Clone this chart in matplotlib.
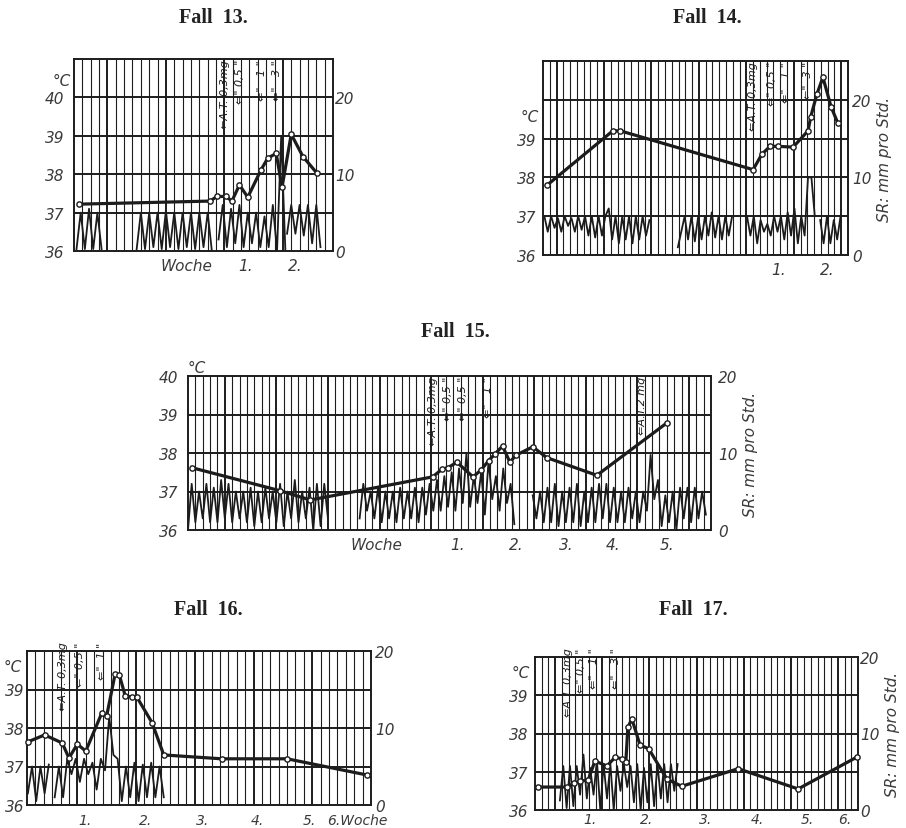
import numpy as np
import matplotlib
matplotlib.use("Agg")
import matplotlib.pyplot as plt

W, H = 906, 829
INK = "#1c1c1c"
TXT = "#3a3a3a"

# ---------------- data (x in grid cells, temperature in degC, SR in mm/h) ----------------
# Fall 13
f13_sr_x = [0.6, 16.3, 17.1, 18.2, 18.9, 19.8, 20.8, 22.4, 23.2, 24.2, 24.9, 26.0, 27.4, 29.1]
f13_sr = [6.1, 6.5, 7.1, 7.1, 6.5, 8.6, 7.0, 10.6, 12.1, 12.7, 8.3, 15.2, 12.3, 10.1]
f13_temp_start = [0.3, 7.5, 17.3, 25.5]
f13_temp = [
    [36.05, 37.0, 36.05, 37.1, 36.05, 37.0, 36.05],
    [36.05, 37.0, 36.05, 37.0, 36.1, 37.0, 36.05, 37.05, 36.1, 37.0, 36.05, 37.0, 36.1, 37.0,
     36.05, 37.0, 36.1, 37.0, 36.0],
    [36.3, 37.2, 36.1, 37.1, 36.2, 37.2, 36.1, 37.0, 36.2, 37.0, 36.1, 36.9, 36.1, 37.2, 36.0,
     39.0, 36.0],
    [36.45, 37.2, 36.45, 37.2, 36.4, 37.2, 36.2, 37.2, 36.1],
]
f13_weeks_x = [20.5, 26.5]
f13_weeks = ["1.", "2."]
f13_notes_x = [18.1, 19.9, 22.5, 24.3]
f13_notes = ["⇐A.T. 0,3mg", "⇐\" 0,5 \"", "⇐\"   1 \"", "⇐\"   3 \""]

# Fall 14
f14_sr_x = [0.6, 10.3, 11.4, 31.0, 32.3, 33.5, 34.7, 36.9, 39.1, 39.5, 40.4, 41.3, 42.5, 43.5]
f14_sr = [9.0, 16.0, 16.0, 11.0, 13.0, 14.0, 14.0, 13.9, 16.0, 17.8, 20.7, 22.9, 19.1, 17.0]
f14_temp_start = [0.2, 19.9, 30.1, 40.9]
f14_temp = [
    [37.0, 36.6, 37.0, 36.7, 36.95, 36.6, 37.0, 36.75, 36.95, 36.6, 37.0, 36.65, 37.0, 36.5,
     37.0, 36.45, 37.0, 36.5, 37.0, 37.2, 36.4, 37.0, 36.3, 37.0, 36.4, 37.0, 36.3, 37.0, 36.4,
     37.0, 36.5, 36.9],
    [36.2, 36.6, 37.0, 36.4, 37.0, 36.35, 37.0, 36.4, 37.0, 36.5, 37.1, 36.45, 37.0, 36.4, 37.0,
     36.5, 37.0],
    [37.0, 36.5, 37.0, 36.3, 36.9, 36.6, 36.8, 36.5, 37.0, 36.6, 37.0, 36.4, 37.1, 36.5, 37.2,
     36.3, 37.0, 36.5, 38.0, 38.0, 37.0],
    [36.9, 36.3, 37.0, 36.3, 36.9, 36.4, 37.0],
]
f14_weeks_x = [34.7, 41.9]
f14_weeks = ["1.", "2."]
f14_notes_x = [31.0, 33.8, 35.8, 39.1]
f14_notes = ["⇐A.T. 0,3mg", "⇐\" 0,5 \"", "⇐\"   1 \"", "⇐\"  3 \""]

# Fall 15
f15_sr_x = [0.5, 12.5, 16.6, 33.2, 34.5, 35.3, 36.5, 38.7, 39.8, 40.8, 41.7, 42.7, 43.7, 44.5,
            46.8, 48.7, 55.5, 65.0]
f15_sr = [8.1, 5.1, 3.9, 6.9, 7.9, 8.1, 8.8, 6.9, 7.8, 9.0, 9.9, 10.9, 8.8, 9.7, 10.8, 9.4, 7.1, 13.9]
f15_temp_start = [0.0, 23.3, 46.8]
f15_temp = [
    [36.0, 37.2, 36.2, 37.0, 36.3, 37.2, 36.2, 37.1, 36.2, 37.3, 36.3, 37.2, 36.2, 37.0, 36.3,
     37.0, 36.2, 37.1, 36.1, 37.0, 36.2, 37.1, 36.3, 37.0, 36.2, 37.2, 36.1, 37.0, 36.3, 37.3,
     36.2, 37.0, 36.3, 37.1, 36.0, 37.2, 36.1, 37.2, 36.3],
    [36.3, 37.2, 36.5, 37.0, 36.3, 37.1, 36.2, 37.0, 36.3, 37.0, 36.2, 37.1, 36.3, 37.0, 36.3,
     37.1, 36.2, 37.1, 36.4, 37.2, 36.5, 37.3, 36.5, 37.4, 36.6, 37.5, 36.5, 37.6, 36.7, 38.0,
     36.6, 37.4, 36.7, 37.5, 36.4, 37.8, 36.8, 37.4, 36.5, 37.6, 36.7, 37.2, 36.15],
    [36.9, 36.3, 37.0, 36.2, 37.1, 36.2, 37.2, 36.1, 37.0, 36.2, 37.1, 36.2, 37.2, 36.1, 37.0,
     36.2, 37.1, 36.2, 37.2, 36.3, 37.2, 36.2, 37.1, 36.2, 37.0, 36.2, 37.1, 36.3, 37.0, 36.2,
     37.0, 36.5, 37.95, 36.8, 37.3, 36.1, 36.9, 36.2, 37.0, 36.0, 37.1, 36.3, 37.1, 36.2, 37.1,
     36.3, 37.0, 36.4],
]
f15_weeks_x = [36.6, 44.6, 51.4, 57.7, 65.0]
f15_weeks = ["1.", "2.", "3.", "4.", "5."]
f15_notes_x = [33.2, 35.3, 37.3, 40.7, 61.6]
f15_notes = ["⇐A.T. 0,3mg", "⇐\" 0,5 \"", "⇐\" 0,5 \"", "⇐\"   1 \"", "⇐A.T.2 mg"]

# Fall 16
f16_sr_x = [0.1, 2.1, 4.2, 5.0, 6.0, 7.0, 8.9, 9.5, 10.5, 11.0, 11.7, 12.5, 13.1, 14.9, 16.3,
            23.2, 31.0, 40.5]
f16_sr = [8.2, 9.1, 8.05, 6.1, 7.9, 7.0, 11.9, 11.6, 17.0, 16.9, 14.2, 14.0, 14.0, 10.7, 6.5,
          6.0, 6.0, 3.9]
f16_temp_start = [0.1, 3.3]
f16_temp = [
    [36.3, 37.0, 36.1, 37.0, 36.3, 37.05],
    [36.2, 37.0, 36.2, 37.2, 36.8, 37.2, 36.6, 37.2, 36.8, 37.1, 36.4, 37.2, 36.9, 38.3, 37.3,
     37.2, 36.1, 37.0, 36.2, 37.1, 36.1, 37.05, 36.2, 37.1, 36.2, 37.0, 36.2],
]
f16_weeks_x = [6.9, 14.1, 20.9, 27.4, 33.7, 39.4]
f16_weeks = ["1.", "2.", "3.", "4.", "5.", "6.Woche"]
f16_notes_x = [4.3, 6.3, 8.9]
f16_notes = ["⇐A.T. 0,3mg", "⇐\" 0,5 \"", "⇐\"  1 \""]

# Fall 17
f17_sr_x = [0.45, 4.75, 5.8, 6.7, 7.9, 8.9, 10.7, 11.9, 12.9, 13.5, 13.8, 14.4, 15.6, 16.9,
            19.6, 21.8, 30.2, 39.1, 47.8]
f17_sr = [3.0, 3.0, 3.5, 3.8, 3.9, 6.4, 5.75, 6.9, 6.7, 6.3, 10.8, 11.9, 8.5, 8.0, 4.05, 3.1,
          5.4, 2.75, 6.9]
f17_temp_start = [3.7]
f17_temp = [
    [36.25, 37.15, 36.05, 37.15, 36.1, 37.15, 36.4, 37.45, 36.3, 37.1, 36.4, 37.3, 36.0, 37.2,
     36.3, 37.2, 36.0, 37.15, 36.5, 37.2, 36.6, 37.15, 36.2, 37.2, 36.0, 37.1, 36.2, 37.2, 36.1,
     37.2, 36.3, 37.2, 36.2, 37.2, 36.5, 37.2],
]
f17_weeks_x = [8.2, 16.6, 25.3, 33.0, 40.4, 46.1]
f17_weeks = ["1.", "2.", "3.", "4.", "5.", "6."]
f17_notes_x = [4.9, 6.8, 8.8, 12.0]
f17_notes = ["⇐A.T. 0,3mg", "⇐\" 0,5 \"", "⇐\"   1 \"", "⇐\"   3 \""]

# ---------------- layout (pixel boxes: left, top, right, bottom) ----------------
PANELS = [
    dict(title="Fall  13.", title_xy=(213, 18), box=(74, 60, 333, 252), cells=31, top=41,
         left_ticks=[36, 37, 38, 39, 40], deg_xy=(62, 82), sr_label=False, thick=4,
         pads=(7, 1.5, 5), xsize=11,
         sr_x=f13_sr_x, sr=f13_sr, t_start=f13_temp_start, temp=f13_temp,
         weeks_x=f13_weeks_x, weeks=f13_weeks, woche_x=13.5,
         notes_x=f13_notes_x, notes=f13_notes, note_top=41.0),
    dict(title="Fall  14.", title_xy=(707, 18), box=(543, 62, 848, 256), cells=45, top=41,
         left_ticks=[36, 37, 38, 39], deg_xy=(530, 118), sr_label=True, thick=2,
         pads=(5, 3, 5), xsize=11,
         sr_x=f14_sr_x, sr=f14_sr, t_start=f14_temp_start, temp=f14_temp,
         weeks_x=f14_weeks_x, weeks=f14_weeks, woche_x=None,
         notes_x=f14_notes_x, notes=f14_notes, note_top=41.0),
    dict(title="Fall  15.", title_xy=(455, 332), box=(188, 377, 711, 531), cells=71, top=40,
         left_ticks=[36, 37, 38, 39, 40], deg_xy=(197, 369), sr_label=True, thick=5,
         pads=(7, 5, 5), xsize=11,
         sr_x=f15_sr_x, sr=f15_sr, t_start=f15_temp_start, temp=f15_temp,
         weeks_x=f15_weeks_x, weeks=f15_weeks, woche_x=25.6,
         notes_x=f15_notes_x, notes=f15_notes, note_top=40.0),
    dict(title="Fall  16.", title_xy=(208, 610), box=(27, 652, 371, 806), cells=41, top=40,
         left_ticks=[36, 37, 38, 39], deg_xy=(13, 668), sr_label=False, thick=6,
         pads=(2, 3, 6), xsize=10,
         sr_x=f16_sr_x, sr=f16_sr, t_start=f16_temp_start, temp=f16_temp,
         weeks_x=f16_weeks_x, weeks=f16_weeks, woche_x=None,
         notes_x=f16_notes_x, notes=f16_notes, note_top=40.25),
    dict(title="Fall  17.", title_xy=(693, 610), box=(535, 658, 858, 811), cells=48, top=40,
         left_ticks=[36, 37, 38, 39], deg_xy=(521, 674), sr_label=True, thick=3,
         pads=(5, 1.5, 1.5), xsize=10,
         sr_x=f17_sr_x, sr=f17_sr, t_start=f17_temp_start, temp=f17_temp,
         weeks_x=f17_weeks_x, weeks=f17_weeks, woche_x=None,
         notes_x=f17_notes_x, notes=f17_notes, note_top=40.25),
]

plt.rcParams["font.family"] = "DejaVu Sans"
plt.rcParams["font.style"] = "italic"

fig = plt.figure(figsize=(W / 100, H / 100), dpi=100)


def fxy(x, y):
    return x / W, 1 - y / H


def draw_panel(p):
    l, t, r, b = p["box"]
    ax = fig.add_axes([l / W, 1 - b / H, (r - l) / W, (b - t) / H])
    n, top = p["cells"], p["top"]
    ax.set_xlim(0, n)
    ax.set_ylim(36, top)
    lpad, rpad, bpad = p["pads"]

    # chart paper
    for i in range(1, n):
        lw = 1.4 if i % 7 == p["thick"] else 0.8
        ax.axvline(i, color=INK, lw=lw, zorder=1)
    for v in range(37, top):
        ax.axhline(v, color=INK, lw=1.4, zorder=1)
    for s in ax.spines.values():
        s.set_linewidth(1.4)
        s.set_color(INK)

    # temperature curve (thin zigzag)
    for s, vals in zip(p["t_start"], p["temp"]):
        xs = s + 0.5 * np.arange(len(vals))
        ax.plot(xs, vals, color=INK, lw=1.3, zorder=3)

    # left axis and week labels
    ax.set_yticks(p["left_ticks"], [str(v) for v in p["left_ticks"]])
    ax.set_xticks(p["weeks_x"], p["weeks"])
    ax.tick_params(axis="y", length=0, labelsize=11, labelcolor=TXT, pad=lpad)
    ax.tick_params(axis="x", length=0, labelsize=p["xsize"], labelcolor=TXT, pad=bpad)

    # SR on the right scale
    ax2 = ax.twinx()
    ax2.set_ylim(0, (top - 36) * 5)
    ax2.plot(p["sr_x"], p["sr"], color=INK, lw=2.3, marker="o", ms=3.8,
             mfc="white", mec=INK, mew=1.0, zorder=4, clip_on=False)
    ax2.set_yticks([0, 10, 20], ["0", "10", "20"])
    ax2.tick_params(length=0, labelsize=11, labelcolor=TXT, pad=rpad)
    for s in ax2.spines.values():
        s.set_visible(False)
    if p["sr_label"]:
        ax2.set_ylabel("SR: mm pro Std.", fontsize=11, color=TXT, labelpad=4)

    # dose notes
    for x, s in zip(p["notes_x"], p["notes"]):
        ax.text(x, p["note_top"], s, rotation=90, ha="center", va="top", fontsize=8,
                color=INK, zorder=5, clip_on=False)

    if p["woche_x"] is not None:
        ax.annotate("Woche", xy=(p["woche_x"], 0), xycoords=("data", "axes fraction"),
                    xytext=(0, -bpad), textcoords="offset points", ha="center", va="top",
                    fontsize=11, color=TXT)

    fig.text(*fxy(*p["deg_xy"]), "°C", ha="center", va="center", fontsize=11, color=TXT)
    fig.text(*fxy(*p["title_xy"]), p["title"], ha="center", va="center", fontsize=14.5,
             family="Liberation Serif", weight="bold", style="normal", color="#222222")


for p in PANELS:
    draw_panel(p)

fig.savefig("out.png", dpi=100, facecolor="white")
